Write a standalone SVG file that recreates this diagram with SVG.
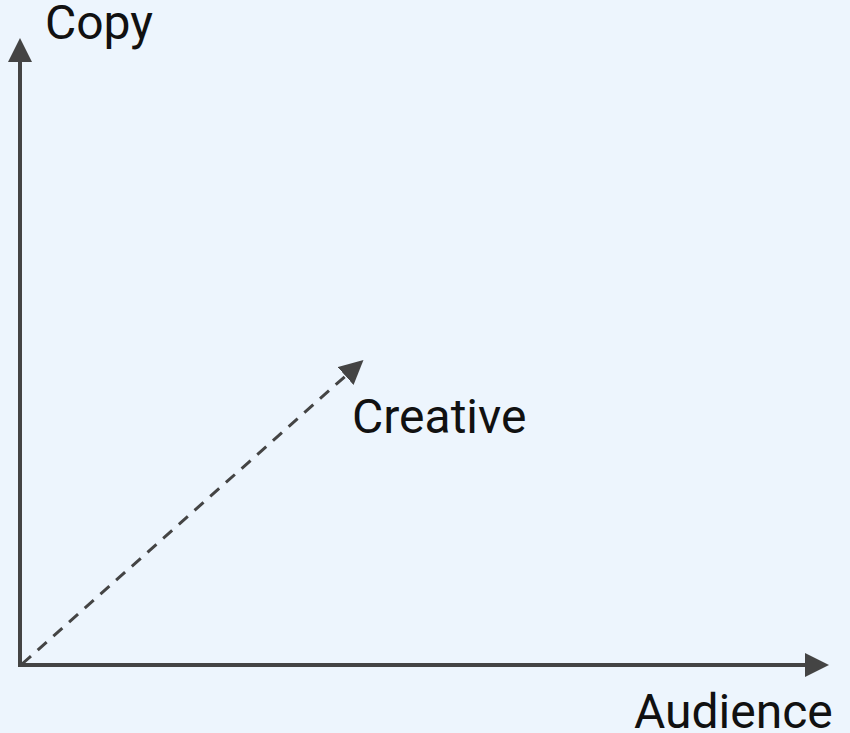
<svg xmlns="http://www.w3.org/2000/svg" width="850" height="733" viewBox="0 0 850 733">
<style>
.lbl{font-family:Roboto,"Liberation Sans",sans-serif;font-size:48px;fill:#111}
.ax{stroke:#444;stroke-width:4;fill:none}
</style>
<defs>
<marker id="ah" markerWidth="6" markerHeight="6" refX="5" refY="3" orient="auto" markerUnits="strokeWidth">
<path d="M0,0 L6,3 L0,6 z" fill="#444"/>
</marker>
<marker id="ah2" markerWidth="8" markerHeight="8" refX="6" refY="4" orient="auto" markerUnits="strokeWidth">
<path d="M0,0 L8,4 L0,8 z" fill="#444"/>
</marker>
</defs>
<rect width="850" height="733" fill="#edf5fd"/>
<g id="connectors">
<line class="ax" x1="20" y1="665" x2="20" y2="42" marker-end="url(#ah)"/>
<line class="ax" x1="18" y1="665" x2="825" y2="665" marker-end="url(#ah)"/>
<line x1="22" y1="664" x2="359" y2="364" stroke="#444" stroke-width="3" stroke-dasharray="12,9" marker-end="url(#ah2)"/>
</g>
<g id="copy"><text class="lbl" x="45" y="39">Copy</text></g>
<g id="creative"><text class="lbl" x="352" y="433">Creative</text></g>
<g id="audience"><text class="lbl" x="634" y="728">Audience</text></g>
</svg>
